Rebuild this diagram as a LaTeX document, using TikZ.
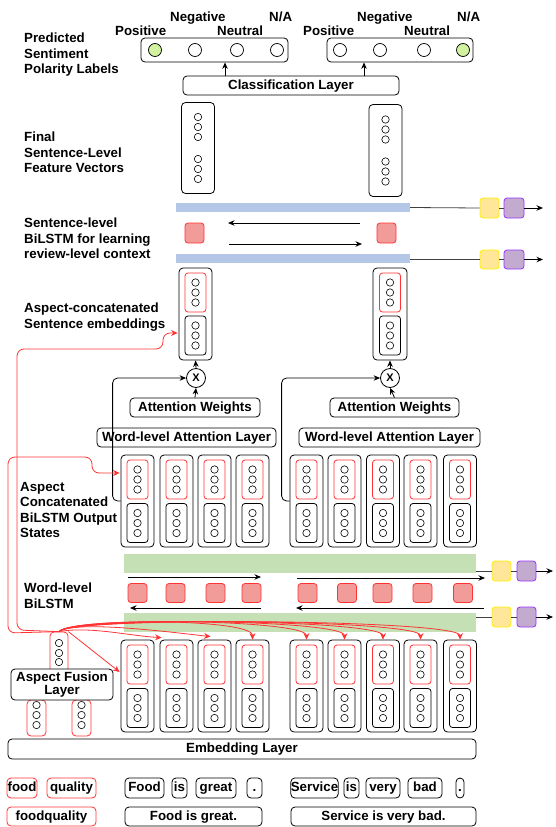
\documentclass[tikz,border=0pt]{standalone}
\usepackage{fontspec}
\setmainfont{Liberation Sans}
\usetikzlibrary{arrows.meta,calc}
\definecolor{myred}{RGB}{255,51,51}
\definecolor{redfill}{RGB}{241,156,153}
\definecolor{barblue}{RGB}{180,199,231}
\definecolor{bargreen}{RGB}{197,224,180}
\definecolor{yfill}{RGB}{255,230,153}
\definecolor{yline}{RGB}{255,240,0}
\definecolor{pfill}{RGB}{195,171,208}
\definecolor{pline}{RGB}{153,51,255}
\definecolor{gfill}{RGB}{210,242,160}
\newcommand\mybox[7][]{%
  \pgfmathsetmacro\mbcx{(#3+#5)/2}%
  \pgfmathsetmacro\mbcy{(#4+#6)/2}%
  \pgfmathsetmacro\mbw{#5-#3}%
  \pgfmathsetmacro\mbh{#6-#4}%
  \node[#1, inner sep=0pt, minimum width=\mbw pt, minimum height=\mbh pt] (#2) at (\mbcx,\mbcy) {#7};}
\newcommand\stk[4]{%
  \node[stackbox, draw=#4] (#1) at (#2,#3) {};%
  \foreach \dd [count=\k] in {-10,0,10} {\node[dot] (#1c\k) at (#2,#3+\dd) {};}%
}
\newcommand\wcol[3]{%
  \node[rbox, minimum width=33pt, minimum height=92pt, inner sep=0pt] (#1) at (#2,#3+46) {};%
  \stk{#1r}{#2}{#3+24.5}{myred}%
  \stk{#1b}{#2}{#3+68}{black}%
}
\begin{document}
\begin{tikzpicture}[x=1pt,y=-1pt,
  font=\fontsize{13.3}{15.5}\selectfont\bfseries,
  rbox/.style={draw, rounded corners=4pt, line width=0.8pt, fill=white},
  rrbox/.style={draw=myred, rounded corners=4pt, line width=0.8pt, fill=white},
  txt/.style={text height=9.6pt, text depth=2.6pt},
  stackbox/.style={rounded corners=3pt, line width=0.8pt, minimum width=21pt, minimum height=39pt, inner sep=0pt},
  dot/.style={circle, draw, line width=0.6pt, minimum size=7.4pt, inner sep=0pt},
  bigdot/.style={circle, draw, line width=0.7pt, minimum size=13pt, inner sep=0pt},
  arr/.style={-{Stealth[length=6.5pt,width=5.5pt]}, line width=0.8pt},
  rarr/.style={-{Stealth[length=6.5pt,width=6pt]}, draw=myred, line width=0.8pt},
  gline/.style={draw=black!75, line width=0.8pt},
  rsq/.style={draw=myred, fill=redfill, rounded corners=3pt, line width=0.8pt},
  ysq/.style={draw=yline, fill=yfill, rounded corners=3pt, line width=0.8pt},
  psq/.style={draw=pline, fill=pfill, rounded corners=3pt, line width=0.8pt},
  lab/.style={anchor=north west, inner sep=0pt, align=left},
  blab/.style={anchor=base west, inner sep=0pt}]
\useasboundingbox (0,0) rectangle (555,827);

% ---------- left labels
\node[lab] (L1) at (24,33) {Predicted\\Sentiment\\Polarity Labels};
\node[lab] (L2) at (24,132) {Final\\Sentence-Level\\Feature Vectors};
\node[lab] (L3) at (24,218) {Sentence-level\\BiLSTM for learning\\review-level context};
\node[lab] (L4) at (24,303) {Aspect-concatenated\\Sentence embeddings};
\node[lab] (L5) at (20,482) {Aspect\\Concatenated\\BiLSTM Output\\States};
\node[lab] (L6) at (24,583) {Word-level\\BiLSTM};

% ---------- predicted labels
\node[blab] (ng1) at (170,21.5) {Negative};
\node[blab] (na1) at (269,21.5) {N/A};
\node[blab] (po1) at (115,35) {Positive};
\node[blab] (ne1) at (217,35) {Neutral};
\node[blab] (ng2) at (357,21.5) {Negative};
\node[blab] (na2) at (457,21.5) {N/A};
\node[blab] (po2) at (303,35) {Positive};
\node[blab] (ne2) at (404,35) {Neutral};
\mybox[rbox]{pl}{141}{38}{288}{62}{}
\mybox[rbox]{pr}{327}{38}{473}{62}{}
\node[bigdot, fill=gfill] (c11) at (155,50) {};
\node[bigdot] (c12) at (195,50) {};
\node[bigdot] (c13) at (237,50) {};
\node[bigdot] (c14) at (277,50) {};
\node[bigdot] (c21) at (340,50) {};
\node[bigdot] (c22) at (380,50) {};
\node[bigdot] (c23) at (424,50) {};
\node[bigdot, fill=gfill] (c24) at (463,50) {};

\mybox[rbox,txt]{cls}{183}{76}{399}{95}{Classification Layer}
\draw[arr] ($(cls.north)+(-66,0)$) -- ($(pl.south)+(10.5,0)$);
\draw[arr] ($(cls.north)+(73,0)$) -- ($(pr.south)+(-36,0)$);

% ---------- final feature vectors
\node[rbox, minimum width=33pt, minimum height=91pt, inner sep=0pt] (fl) at (198,148) {};
\foreach \dd [count=\k] in {-31,-21,-11,11,21,31} {\node[dot] (fl\k) at (198,148+\dd) {};}
\node[rbox, minimum width=33pt, minimum height=92pt, inner sep=0pt] (fr) at (385.5,150.5) {};
\foreach \dd [count=\k] in {-31,-21,-11,11,21,31} {\node[dot] (fr\k) at (385.5,150.5+\dd) {};}

% ---------- sentence-level BiLSTM
\mybox[fill=barblue]{bt}{176}{203}{410}{212}{}
\mybox[fill=barblue]{bb}{176}{254}{410}{263}{}
\mybox[ysq]{yt}{480}{198}{499}{218}{}
\mybox[psq]{pt}{504}{198}{524}{218}{}
\mybox[ysq]{yb}{480}{250}{499}{269}{}
\mybox[psq]{pb}{504}{250}{524}{269}{}
\coordinate (et) at (543,208);
\coordinate (eb) at (543,259.5);
\draw[gline] (bt.east) -- (yt.west);
\draw[gline] (yt.east) -- (pt.west);
\draw[arr] (pt.east) -- (et);
\draw[gline] (bb.east |- yb.west) -- (yb.west);
\draw[gline] (yb.east) -- (pb.west);
\draw[arr] (pb.east) -- (eb);
\mybox[rsq]{sq1}{185}{223}{204}{243}{}
\mybox[rsq]{sq2}{377}{223}{396}{243}{}
\coordinate (s1) at (360,223); \coordinate (s2) at (228,223);
\coordinate (s3) at (229,244); \coordinate (s4) at (362,244);
\draw[arr] (s1) -- (s2);
\draw[arr] (s3) -- (s4);

% ---------- aspect-concatenated sentence embeddings
\node[rbox, minimum width=33pt, minimum height=92pt, inner sep=0pt] (sel) at (195.5,314) {};
\stk{selr}{195.5}{292.5}{myred}
\stk{selb}{195.5}{335.5}{black}
\node[rbox, minimum width=34pt, minimum height=92pt, inner sep=0pt] (sen) at (390,314) {};
\stk{senr}{390}{292.5}{myred}
\stk{senb}{390}{335.5}{black}

% ---------- multiply
\node[circle, draw, fill=white, line width=0.8pt, minimum size=19pt, inner sep=0pt, font=\fontsize{11}{11}\selectfont\bfseries] (xl) at (196,378) {X};
\node[circle, draw, fill=white, line width=0.8pt, minimum size=19pt, inner sep=0pt, font=\fontsize{11}{11}\selectfont\bfseries] (xr) at (390,378) {X};
\draw[arr] (xl.north) -- (sel.south);
\draw[arr] (xr.north) -- (sen.south);

\mybox[rbox,txt]{awl}{130}{398}{260}{417}{Attention Weights}
\mybox[rbox,txt]{awr}{330}{398}{459}{417}{Attention Weights}
\draw[arr] (awl.north) -- (xl.south);
\draw[arr] (awr.north) -- (xr.south);
\mybox[rbox,txt]{wal}{97}{428}{276}{447}{Word-level Attention Layer}
\mybox[rbox,txt]{war}{299}{428}{480}{447}{Word-level Attention Layer}

% ---------- columns
\foreach \n/\x in {1/137.5,2/176.5,3/214.5,4/252.5,5/306.5,6/344.5,7/383,8/420.5,9/460} {
  \wcol{a\n}{\x}{455}
  \wcol{e\n}{\x}{640}
}
\draw[arr, rounded corners=5pt] (a1.west) -- ++(-8,0) |- (xl.west);
\draw[arr, rounded corners=5pt] (a5.west) -- ++(-8,0) |- (xr.west);

% ---------- word-level BiLSTM
\mybox[fill=bargreen]{gt}{124}{554}{476}{573}{}
\mybox[fill=bargreen]{gb}{124}{613}{476}{632}{}
\mybox[ysq]{yg1}{492}{561}{511}{581}{}
\mybox[psq]{pg1}{517}{561}{536}{581}{}
\mybox[ysq]{yg2}{492}{607}{511}{627}{}
\mybox[psq]{pg2}{517}{607}{536}{627}{}
\coordinate (eg1) at (553,571); \coordinate (eg2) at (553,617);
\draw[gline] (gt.east |- yg1.west) -- (yg1.west);
\draw[gline] (yg1.east) -- (pg1.west);
\draw[arr] (pg1.east) -- (eg1);
\draw[gline] (gb.east |- yg2.west) -- (yg2.west);
\draw[gline] (yg2.east) -- (pg2.west);
\draw[arr] (pg2.east) -- (eg2);
\foreach \x [count=\k] in {137.5,175.5,215.5,251.5,307.5,347,382.5,422.5,463} {
  \node[rsq, minimum size=19pt, inner sep=0pt] (w\k) at (\x,593) {};
}
\coordinate (f1) at (128,577); \coordinate (f2) at (261,577);
\coordinate (f3) at (261,608); \coordinate (f4) at (130,608);
\coordinate (f5) at (297,578); \coordinate (f6) at (485,578);
\coordinate (f7) at (484,608); \coordinate (f8) at (296,608);
\draw[arr] (f1) -- (f2);
\draw[arr] (f3) -- (f4);
\draw[arr] (f5) -- (f6);
\draw[arr] (f7) -- (f8);

% ---------- aspect fusion
\node[rrbox, minimum width=18pt, minimum height=48pt, inner sep=0pt] (fc) at (59,656) {};
\foreach \yy [count=\k] in {643,653,662} {\node[dot] (fcc\k) at (59,\yy) {};}
\mybox[rrbox]{fs1}{27}{700}{46}{736}{}
\mybox[rrbox]{fs2}{72}{700}{91}{736}{}
\foreach \yy [count=\k] in {705,715,725} {\node[dot] (fsa\k) at (36.5,\yy) {}; \node[dot] (fsb\k) at (81.5,\yy) {};}
\mybox[rbox, align=center, font=\fontsize{13.3}{13.5}\selectfont\bfseries]{afl}{11}{669}{113}{700}{Aspect Fusion\\Layer}

\mybox[rbox,txt]{emb}{8}{739}{476}{759}{Embedding Layer}

% ---------- words
\mybox[rrbox,txt]{wfood}{7}{778}{37}{798}{food}
\mybox[rrbox,txt]{wqual}{47}{778}{96}{798}{quality}
\mybox[rrbox,txt]{wfq}{7}{807}{96}{826}{foodquality}
\mybox[rbox,txt]{t1}{125}{778}{164}{798}{Food}
\mybox[rbox,txt]{t2}{172}{778}{187}{798}{is}
\mybox[rbox,txt]{t3}{196}{778}{236}{798}{great}
\mybox[rbox,txt]{t4}{247}{778}{262}{798}{.}
\mybox[rbox,txt]{s1s}{125}{807}{262}{826}{Food is great.}
\mybox[rbox,txt]{u1}{292}{778}{337}{798}{Service}
\mybox[rbox,txt]{u2}{344}{778}{359}{798}{is}
\mybox[rbox,txt]{u3}{366}{778}{400}{798}{very}
\mybox[rbox,txt]{u4}{408}{778}{442}{798}{bad}
\mybox[rbox,txt]{u5}{456}{778}{464}{798}{.}
\mybox[rbox,txt]{s2s}{291}{807}{476}{826}{Service is very bad.}

% ---------- red routes
\draw[rarr, rounded corners=7pt] (fc.north) -- (17,630) -- (17,349) -- (163,349) -- (163,333) -- ($(sel.west)+(-1,19)$);
\draw[rarr, rounded corners=7pt] (fc.north) -- (8,633) -- (8,457) -- (92,457) -- (92,473) -- ($(a1.west)+(-1,-28)$);
\draw[rarr] (fc.north east) -- ($(e1.west)+(-1,-14)$);
\draw[rarr] (fc.north) .. controls (90,626) and (130,636) .. ($(e2.north west)+(2,-2)$);
\draw[rarr] (fc.north) .. controls (75,620) and (170,632) .. ($(e3.north)+(-4,-3)$);
\draw[rarr] (fc.north) .. controls (70,618) and (252.5,618) .. (e4.north);
\foreach \t in {5,...,9} {
  \draw[rarr] (fc.north) .. controls (72,616) and ($(e\t.north)+(0,-20)$) .. (e\t.north);
}
\end{tikzpicture}
\end{document}
